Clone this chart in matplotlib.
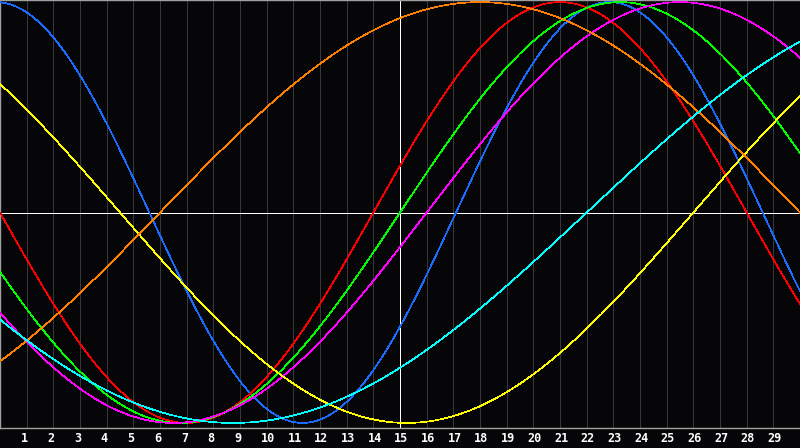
import numpy as np
import matplotlib
matplotlib.use("Agg")
import matplotlib.pyplot as plt

# biorhythm cycles: period (days) and day of the rising zero crossing
names = ["physical", "emotional", "intellectual", "intuitive", "aesthetic", "awareness", "spiritual"]
periods = [23, 28, 33, 38, 43, 48, 53]
rising_zero = [17.1, 14.0, 15.0, 16.0, 26.0, 6.0, 22.0]
colors = ["#1a6cff", "#ff0000", "#00ff00", "#ff00ff", "#ffff00", "#ff8000", "#00ffff"]

day_labels = [str(d) for d in range(1, 30)]
n_days = 30
today = 15

bg = "#060608"
fig = plt.figure(figsize=(8, 4.48), dpi=100, facecolor=bg)
ax = fig.add_axes([0, 20 / 448, 1, 428 / 448])
ax.set_facecolor(bg)

# day grid
for d in range(1, n_days):
    ax.axvline(d, color="#38383c", lw=0.6, zorder=1, antialiased=False)
ax.axvline(today, color="white", lw=0.6, zorder=2, antialiased=False)
ax.axhline(0, color="white", lw=0.6, zorder=2, antialiased=False)

t = np.linspace(0, n_days, 1200)
for p, z, c in zip(periods, rising_zero, colors):
    ax.plot(t, np.sin(2 * np.pi * (t - z) / p), color=c, lw=0.5, zorder=3,
            antialiased=False)

ax.set_xlim(0, n_days)
ax.set_ylim(-1.024, 1.01)
ax.set_xticks([])
ax.set_yticks([])
for s in ["left", "top", "bottom"]:
    ax.spines[s].set_color("#a0a0a0")
    ax.spines[s].set_linewidth(1.0)
ax.spines["right"].set_visible(False)

for i, lab in enumerate(day_labels):
    ax.text(i + 1 - 0.22, -0.025, lab, transform=ax.get_xaxis_transform(),
            ha="left", va="center", color="white", fontsize=8.5, fontweight="bold",
            family="DejaVu Sans Mono")

fig.savefig("out.png", dpi=100, facecolor=bg)
